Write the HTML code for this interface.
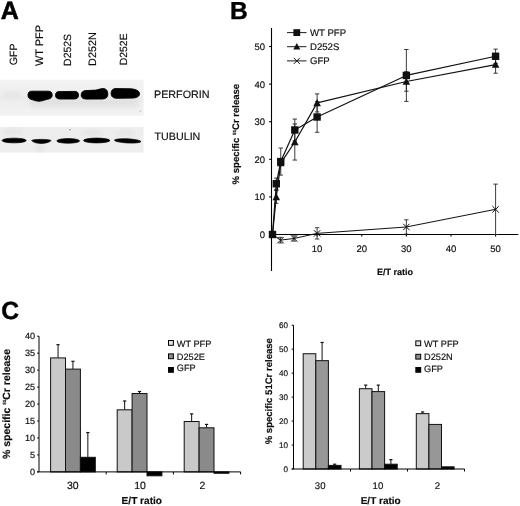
<!DOCTYPE html>
<html><head><meta charset="utf-8"><title>Figure</title>
<style>
html,body{margin:0;padding:0;background:#fff;}
body{width:520px;height:506px;overflow:hidden;}
svg{display:block;}
text{font-family:"Liberation Sans",sans-serif;fill:#0d0d0d;stroke:#0d0d0d;stroke-width:0.16px;text-rendering:geometricPrecision;}
svg{opacity:0.999;will-change:transform;}
.b{font-weight:bold;}
.pl{fill:#000;stroke:#000;}
</style></head><body>
<svg width="520" height="506" viewBox="0 0 520 506">
<defs>
<filter id="bl1" x="-20%" y="-50%" width="140%" height="200%"><feGaussianBlur stdDeviation="0.62"/></filter>
<filter id="bl2" x="-20%" y="-50%" width="140%" height="200%"><feGaussianBlur stdDeviation="0.5"/></filter>
<filter id="bl3" x="-20%" y="-50%" width="140%" height="200%"><feGaussianBlur stdDeviation="2.5"/></filter>
<linearGradient id="bg1" x1="0" y1="0" x2="0" y2="1"><stop offset="0" stop-color="#f4f4f4"/><stop offset="0.5" stop-color="#ededed"/><stop offset="1" stop-color="#f3f3f3"/></linearGradient>
</defs>
<rect x="0" y="0" width="520" height="506" fill="#ffffff"/>

<text class="b pl" x="0.7" y="19.2" font-size="25" style="stroke-width:0.55px">A</text>
<text class="b pl" x="230.0" y="19.0" font-size="24.6" style="stroke-width:0.4px">B</text>
<text class="b pl" x="1.3" y="319.0" font-size="24.6" style="stroke-width:0.45px">C</text>
<text font-size="10.5" transform="translate(17.3,65.2) rotate(-90)">GFP</text>
<text font-size="10.9" transform="translate(42.7,66.0) rotate(-90)">WT PFP</text>
<text font-size="10.45" transform="translate(71.4,65.9) rotate(-90)">D252S</text>
<text font-size="10.8" transform="translate(95.5,65.9) rotate(-90)">D252N</text>
<text font-size="10.4" transform="translate(127.1,65.2) rotate(-90)">D252E</text>
<text font-size="10.75" x="154.0" y="98.0">PERFORIN</text>
<text font-size="10.7" x="154.6" y="140.2">TUBULIN</text>
<g>
<rect x="0" y="79.6" width="143.6" height="36.2" fill="url(#bg1)"/>
<g filter="url(#bl3)" opacity="0.55">
<rect x="30" y="98" width="108" height="9" fill="#d6d6d6"/>
<rect x="2" y="92" width="20" height="6" fill="#dedede"/>
</g>
<circle cx="140.2" cy="111" r="0.6" fill="#8a8a8a"/>
<g filter="url(#bl1)" fill="#040404" stroke="#040404" stroke-width="0.9" stroke-linejoin="round">
<path d="M28,95 C28,92.2 29.5,91.2 32,91.2 L48,91.2 C51,91.2 52.2,92.5 52.2,95 C52.2,98 50,99 46,99.6 C43,100.6 41,101.2 39,101.2 C36,101.2 33,100 31,99.3 C29,98.7 28,97.5 28,95 Z"/>
<path d="M55.5,95.2 C55.5,92.5 57,91.6 59,91.6 L75,91.4 C77.5,91.4 78.5,93 78.5,95.2 C78.5,97.8 77,98.9 74,99 L60,99 C57,99 55.5,97.8 55.5,95.2 Z"/>
<path d="M81.2,95 C81.2,92 83,90.8 86,90.6 L96,90.1 C98.5,89.6 100.5,88.6 103,88.6 C106.5,88.6 107.8,91 107.8,94 C107.8,97.5 106,98.9 102,99 L87,99.1 C83,99.1 81.2,97.8 81.2,95 Z"/>
<path d="M111.1,93.5 C111.1,90 113,88.6 116,88.6 L131,88.8 C136,89.2 139.5,91 139.5,93.8 C139.5,96.5 137,97.9 132,98.1 L117,98.3 C113,98.3 111.1,96.5 111.1,93.5 Z"/>
</g></g>
<g>
<rect x="0" y="127.0" width="143.6" height="25.6" fill="#eeeeee"/>
<g filter="url(#bl3)" opacity="0.6">
<rect x="4" y="130.5" width="18" height="3" fill="#d0d0d0"/>
<rect x="82" y="131" width="20" height="3" fill="#d0d0d0"/>
<rect x="116" y="131.5" width="18" height="3" fill="#d4d4d4"/>
<rect x="36" y="145" width="8" height="6" fill="#d8d8d8"/>
</g>
<circle cx="70" cy="129.8" r="0.7" fill="#777"/>
<g filter="url(#bl2)" fill="#040404" stroke="#040404" stroke-width="0.7" stroke-linejoin="round">
<ellipse cx="14.1" cy="140.5" rx="12.1" ry="2.35"/>
<path d="M31.6,140.6 C33,139.6 36,139.4 41,139.4 C46,139.4 49.5,139.6 51.2,140.6 C49,142.6 45,143.4 41.3,143.4 C37.5,143.4 33.5,142.6 31.6,140.6 Z"/>
<ellipse cx="68.2" cy="140.9" rx="11.4" ry="2.3"/>
<ellipse cx="96.7" cy="140.5" rx="13.2" ry="2.4"/>
<ellipse cx="127.7" cy="140.9" rx="13.2" ry="2.05" transform="rotate(3 127.7 140.9)"/>
</g></g>
<g stroke="#000" stroke-width="1.1" fill="none">
<line x1="271.5" y1="28" x2="271.5" y2="271"/>
<line x1="271.5" y1="234.5" x2="518.3" y2="234.5"/>
<line x1="269.1" y1="234.50" x2="271.5" y2="234.50"/>
<line x1="269.1" y1="196.90" x2="271.5" y2="196.90"/>
<line x1="269.1" y1="159.30" x2="271.5" y2="159.30"/>
<line x1="269.1" y1="121.70" x2="271.5" y2="121.70"/>
<line x1="269.1" y1="84.10" x2="271.5" y2="84.10"/>
<line x1="269.1" y1="46.50" x2="271.5" y2="46.50"/>
<line x1="317.12" y1="234.5" x2="317.12" y2="236.5"/>
<line x1="361.74" y1="234.5" x2="361.74" y2="236.5"/>
<line x1="406.36" y1="234.5" x2="406.36" y2="236.5"/>
<line x1="450.98" y1="234.5" x2="450.98" y2="236.5"/>
<line x1="495.60" y1="234.5" x2="495.60" y2="236.5"/>
</g>
<text font-size="9.5" text-anchor="end" x="265" y="237.90">0</text>
<text font-size="9.5" text-anchor="end" x="265" y="200.30">10</text>
<text font-size="9.5" text-anchor="end" x="265" y="162.70">20</text>
<text font-size="9.5" text-anchor="end" x="265" y="125.10">30</text>
<text font-size="9.5" text-anchor="end" x="265" y="87.50">40</text>
<text font-size="9.5" text-anchor="end" x="265" y="49.90">50</text>
<text font-size="9.5" text-anchor="middle" x="317.12" y="251.7">10</text>
<text font-size="9.5" text-anchor="middle" x="361.74" y="251.7">20</text>
<text font-size="9.5" text-anchor="middle" x="406.36" y="251.7">30</text>
<text font-size="9.5" text-anchor="middle" x="450.98" y="251.7">40</text>
<text font-size="9.5" text-anchor="middle" x="495.60" y="251.7">50</text>
<text class="b" font-size="9" text-anchor="middle" x="395" y="275">E/T ratio</text>
<text class="b" font-size="9.55" text-anchor="middle" transform="translate(239.3,134.1) rotate(-90)">% specific <tspan font-size="4.5" dy="-3.5">51</tspan><tspan dy="3.5">Cr release</tspan></text>
<g stroke="#262626" stroke-width="0.9" fill="none">
<line x1="280.53" y1="237.32" x2="280.53" y2="242.96"/>
<line x1="278.33" y1="237.32" x2="282.73" y2="237.32"/>
<line x1="278.33" y1="242.96" x2="282.73" y2="242.96"/>
<line x1="294.14" y1="235.82" x2="294.14" y2="241.08"/>
<line x1="291.94" y1="235.82" x2="296.34" y2="235.82"/>
<line x1="291.94" y1="241.08" x2="296.34" y2="241.08"/>
<line x1="317.12" y1="227.73" x2="317.12" y2="239.01"/>
<line x1="314.92" y1="227.73" x2="319.32" y2="227.73"/>
<line x1="314.92" y1="239.01" x2="319.32" y2="239.01"/>
<line x1="406.36" y1="219.84" x2="406.36" y2="234.12"/>
<line x1="404.16" y1="219.84" x2="408.56" y2="219.84"/>
<line x1="404.16" y1="234.12" x2="408.56" y2="234.12"/>
<line x1="495.60" y1="184.12" x2="495.60" y2="234.50"/>
<line x1="493.40" y1="184.12" x2="497.80" y2="184.12"/>
<line x1="493.40" y1="234.50" x2="497.80" y2="234.50"/>
<line x1="276.29" y1="190.51" x2="276.29" y2="203.29"/>
<line x1="274.09" y1="190.51" x2="278.49" y2="190.51"/>
<line x1="274.09" y1="203.29" x2="278.49" y2="203.29"/>
<line x1="294.81" y1="123.96" x2="294.81" y2="160.05"/>
<line x1="292.61" y1="123.96" x2="297.01" y2="123.96"/>
<line x1="292.61" y1="160.05" x2="297.01" y2="160.05"/>
<line x1="317.12" y1="93.88" x2="317.12" y2="111.92"/>
<line x1="314.92" y1="93.88" x2="319.32" y2="93.88"/>
<line x1="314.92" y1="111.92" x2="319.32" y2="111.92"/>
<line x1="406.36" y1="71.69" x2="406.36" y2="91.24"/>
<line x1="404.16" y1="71.69" x2="408.56" y2="71.69"/>
<line x1="404.16" y1="91.24" x2="408.56" y2="91.24"/>
<line x1="495.60" y1="55.90" x2="495.60" y2="73.20"/>
<line x1="493.40" y1="55.90" x2="497.80" y2="55.90"/>
<line x1="493.40" y1="73.20" x2="497.80" y2="73.20"/>
<line x1="276.29" y1="178.10" x2="276.29" y2="189.38"/>
<line x1="274.09" y1="178.10" x2="278.49" y2="178.10"/>
<line x1="274.09" y1="189.38" x2="278.49" y2="189.38"/>
<line x1="280.75" y1="148.02" x2="280.75" y2="175.09"/>
<line x1="278.55" y1="148.02" x2="282.95" y2="148.02"/>
<line x1="278.55" y1="175.09" x2="282.95" y2="175.09"/>
<line x1="294.81" y1="119.07" x2="294.81" y2="140.88"/>
<line x1="292.61" y1="119.07" x2="297.01" y2="119.07"/>
<line x1="292.61" y1="140.88" x2="297.01" y2="140.88"/>
<line x1="317.12" y1="101.77" x2="317.12" y2="132.23"/>
<line x1="314.92" y1="101.77" x2="319.32" y2="101.77"/>
<line x1="314.92" y1="132.23" x2="319.32" y2="132.23"/>
<line x1="406.36" y1="49.51" x2="406.36" y2="101.40"/>
<line x1="404.16" y1="49.51" x2="408.56" y2="49.51"/>
<line x1="404.16" y1="101.40" x2="408.56" y2="101.40"/>
<line x1="495.60" y1="49.13" x2="495.60" y2="63.42"/>
<line x1="493.40" y1="49.13" x2="497.80" y2="49.13"/>
<line x1="493.40" y1="63.42" x2="497.80" y2="63.42"/>
</g>
<polyline points="272.50,234.50 280.53,240.14 294.14,238.45 317.12,233.37 406.36,226.98 495.60,209.31" fill="none" stroke="#111111" stroke-width="1.0" stroke-linejoin="round"/>
<polyline points="272.50,234.50 276.29,196.90 280.75,163.06 294.81,142.00 317.12,102.90 406.36,81.47 495.60,64.55" fill="none" stroke="#111111" stroke-width="1.2" stroke-linejoin="round"/>
<polyline points="272.50,234.50 276.29,183.74 280.75,161.56 294.81,129.97 317.12,117.00 406.36,75.45 495.60,56.28" fill="none" stroke="#111111" stroke-width="1.2" stroke-linejoin="round"/>
<path d="M277.33,236.94 L283.73,243.34 M277.33,243.34 L283.73,236.94" stroke="#111111" stroke-width="1" fill="none"/>
<path d="M290.94,235.25 L297.34,241.65 M290.94,241.65 L297.34,235.25" stroke="#111111" stroke-width="1" fill="none"/>
<path d="M313.92,230.17 L320.32,236.57 M313.92,236.57 L320.32,230.17" stroke="#111111" stroke-width="1" fill="none"/>
<path d="M403.16,223.78 L409.56,230.18 M403.16,230.18 L409.56,223.78" stroke="#111111" stroke-width="1" fill="none"/>
<path d="M492.40,206.11 L498.80,212.51 M492.40,212.51 L498.80,206.11" stroke="#111111" stroke-width="1" fill="none"/>
<polygon points="276.29,193.10 280.09,200.13 272.49,200.13" fill="#111111"/>
<polygon points="280.75,159.26 284.55,166.29 276.95,166.29" fill="#111111"/>
<polygon points="294.81,138.20 298.61,145.23 291.01,145.23" fill="#111111"/>
<polygon points="317.12,99.10 320.92,106.13 313.32,106.13" fill="#111111"/>
<polygon points="406.36,77.67 410.16,84.70 402.56,84.70" fill="#111111"/>
<polygon points="495.60,60.75 499.40,67.78 491.80,67.78" fill="#111111"/>
<rect x="268.80" y="230.80" width="7.4" height="7.4" fill="#111111"/>
<rect x="272.59" y="180.04" width="7.4" height="7.4" fill="#111111"/>
<rect x="277.05" y="157.86" width="7.4" height="7.4" fill="#111111"/>
<rect x="291.11" y="126.27" width="7.4" height="7.4" fill="#111111"/>
<rect x="313.42" y="113.30" width="7.4" height="7.4" fill="#111111"/>
<rect x="402.66" y="71.75" width="7.4" height="7.4" fill="#111111"/>
<rect x="491.90" y="52.58" width="7.4" height="7.4" fill="#111111"/>
<line x1="287" y1="32.6" x2="306.5" y2="32.6" stroke="#111111" stroke-width="0.95"/>
<rect x="293.40" y="29.20" width="6.8" height="6.8" fill="#111111"/>
<text font-size="9.6" x="310" y="36.0">WT PFP</text>
<line x1="287" y1="46.7" x2="306.5" y2="46.7" stroke="#111111" stroke-width="0.95"/>
<polygon points="296.80,42.90 300.30,49.38 293.30,49.38" fill="#111111"/>
<text font-size="9.6" x="310" y="50.1">D252S</text>
<line x1="287" y1="60.9" x2="306.5" y2="60.9" stroke="#111111" stroke-width="0.95"/>
<path d="M293.80,57.90 L299.80,63.90 M293.80,63.90 L299.80,57.90" stroke="#111111" stroke-width="1" fill="none"/>
<text font-size="9.6" x="310" y="64.3">GFP</text>
<line x1="58.05" y1="357.91" x2="58.05" y2="344.68" stroke="#111111" stroke-width="1"/>
<line x1="56.45" y1="344.68" x2="59.65" y2="344.68" stroke="#111111" stroke-width="1.2"/>
<rect x="50.60" y="357.91" width="14.90" height="113.99" fill="#c9c9c9" stroke="#111111" stroke-width="1"/>
<line x1="72.95" y1="369.11" x2="72.95" y2="361.30" stroke="#111111" stroke-width="1"/>
<line x1="71.35" y1="361.30" x2="74.55" y2="361.30" stroke="#111111" stroke-width="1.2"/>
<rect x="65.50" y="369.11" width="14.90" height="102.79" fill="#8a8a8a" stroke="#111111" stroke-width="1"/>
<line x1="87.85" y1="457.31" x2="87.85" y2="432.55" stroke="#111111" stroke-width="1"/>
<line x1="86.25" y1="432.55" x2="89.45" y2="432.55" stroke="#111111" stroke-width="1.2"/>
<rect x="80.40" y="457.31" width="14.90" height="14.59" fill="#000000" stroke="#111111" stroke-width="1"/>
<line x1="124.65" y1="409.82" x2="124.65" y2="401.00" stroke="#111111" stroke-width="1"/>
<line x1="123.05" y1="401.00" x2="126.25" y2="401.00" stroke="#111111" stroke-width="1.2"/>
<rect x="117.20" y="409.82" width="14.90" height="62.08" fill="#c9c9c9" stroke="#111111" stroke-width="1"/>
<line x1="139.55" y1="393.53" x2="139.55" y2="391.50" stroke="#111111" stroke-width="1"/>
<line x1="137.95" y1="391.50" x2="141.15" y2="391.50" stroke="#111111" stroke-width="1.2"/>
<rect x="132.10" y="393.53" width="14.90" height="78.37" fill="#8a8a8a" stroke="#111111" stroke-width="1"/>
<rect x="147.00" y="471.90" width="14.90" height="3.90" fill="#000000" stroke="#111111" stroke-width="1"/>
<line x1="191.65" y1="421.52" x2="191.65" y2="413.89" stroke="#111111" stroke-width="1"/>
<line x1="190.05" y1="413.89" x2="193.25" y2="413.89" stroke="#111111" stroke-width="1.2"/>
<rect x="184.20" y="421.52" width="14.90" height="50.38" fill="#c9c9c9" stroke="#111111" stroke-width="1"/>
<line x1="206.55" y1="427.80" x2="206.55" y2="424.41" stroke="#111111" stroke-width="1"/>
<line x1="204.95" y1="424.41" x2="208.15" y2="424.41" stroke="#111111" stroke-width="1.2"/>
<rect x="199.10" y="427.80" width="14.90" height="44.10" fill="#8a8a8a" stroke="#111111" stroke-width="1"/>
<rect x="214.00" y="471.90" width="14.90" height="1.36" fill="#000000" stroke="#111111" stroke-width="1"/>
<g stroke="#000" stroke-width="1" fill="none">
<line x1="39.0" y1="336.2" x2="39.0" y2="471.9"/>
<line x1="37.2" y1="471.9" x2="240.60000000000002" y2="471.9"/>
<line x1="37.2" y1="471.90" x2="39.0" y2="471.90"/>
<line x1="37.2" y1="454.94" x2="39.0" y2="454.94"/>
<line x1="37.2" y1="437.97" x2="39.0" y2="437.97"/>
<line x1="37.2" y1="421.01" x2="39.0" y2="421.01"/>
<line x1="37.2" y1="404.05" x2="39.0" y2="404.05"/>
<line x1="37.2" y1="387.09" x2="39.0" y2="387.09"/>
<line x1="37.2" y1="370.12" x2="39.0" y2="370.12"/>
<line x1="37.2" y1="353.16" x2="39.0" y2="353.16"/>
<line x1="37.2" y1="336.20" x2="39.0" y2="336.20"/>
<line x1="106.20" y1="471.9" x2="106.20" y2="474.4"/>
<line x1="173.40" y1="471.9" x2="173.40" y2="474.4"/>
<line x1="240.60" y1="471.9" x2="240.60" y2="474.4"/>
</g>
<text font-size="9.1" text-anchor="end" x="35.1" y="474.80">0</text>
<text font-size="9.1" text-anchor="end" x="35.1" y="457.84">5</text>
<text font-size="9.1" text-anchor="end" x="35.1" y="440.87">10</text>
<text font-size="9.1" text-anchor="end" x="35.1" y="423.91">15</text>
<text font-size="9.1" text-anchor="end" x="35.1" y="406.95">20</text>
<text font-size="9.1" text-anchor="end" x="35.1" y="389.99">25</text>
<text font-size="9.1" text-anchor="end" x="35.1" y="373.02">30</text>
<text font-size="9.1" text-anchor="end" x="35.1" y="356.06">35</text>
<text font-size="9.1" text-anchor="end" x="35.1" y="339.10">40</text>
<text font-size="10.5" text-anchor="middle" x="72.8" y="488.8">30</text>
<text font-size="10.5" text-anchor="middle" x="140.0" y="488.8">10</text>
<text font-size="10.5" text-anchor="middle" x="202.4" y="488.8">2</text>
<text class="b" font-size="10.1" text-anchor="middle" x="141.8" y="504.3">E/T ratio</text>
<text class="b" font-size="10.5" text-anchor="middle" transform="translate(9.6,404.0) rotate(-90)">% specific <tspan font-size="4.5" dy="-3.5">51</tspan><tspan dy="3.5">Cr release</tspan></text>
<rect x="168.5" y="340.5" width="4.9" height="4.8" fill="#e2e2e2" stroke="#000" stroke-width="1"/>
<text font-size="9.2" x="176.8" y="346.6">WT PFP</text>
<rect x="168.5" y="353.90000000000003" width="4.9" height="4.8" fill="#8e8e8e" stroke="#000" stroke-width="1"/>
<text font-size="9.2" x="176.8" y="359.5">D252E</text>
<rect x="168.0" y="367.0" width="5.9" height="5.8" fill="#000"/>
<text font-size="9.2" x="176.8" y="371.3">GFP</text>
<rect x="303.20" y="353.72" width="12.60" height="115.28" fill="#cbcbcb" stroke="#111111" stroke-width="1"/>
<line x1="322.10" y1="360.67" x2="322.10" y2="342.46" stroke="#111111" stroke-width="1"/>
<line x1="320.50" y1="342.46" x2="323.70" y2="342.46" stroke="#111111" stroke-width="1.2"/>
<rect x="315.80" y="360.67" width="12.60" height="108.33" fill="#979797" stroke="#111111" stroke-width="1"/>
<line x1="334.70" y1="465.40" x2="334.70" y2="464.21" stroke="#111111" stroke-width="1"/>
<line x1="333.10" y1="464.21" x2="336.30" y2="464.21" stroke="#111111" stroke-width="1.2"/>
<rect x="328.40" y="465.40" width="12.60" height="3.60" fill="#000000" stroke="#111111" stroke-width="1"/>
<line x1="365.70" y1="388.71" x2="365.70" y2="385.12" stroke="#111111" stroke-width="1"/>
<line x1="364.10" y1="385.12" x2="367.30" y2="385.12" stroke="#111111" stroke-width="1.2"/>
<rect x="359.40" y="388.71" width="12.60" height="80.29" fill="#cbcbcb" stroke="#111111" stroke-width="1"/>
<line x1="378.30" y1="391.59" x2="378.30" y2="385.12" stroke="#111111" stroke-width="1"/>
<line x1="376.70" y1="385.12" x2="379.90" y2="385.12" stroke="#111111" stroke-width="1.2"/>
<rect x="372.00" y="391.59" width="12.60" height="77.41" fill="#979797" stroke="#111111" stroke-width="1"/>
<line x1="390.90" y1="464.21" x2="390.90" y2="459.65" stroke="#111111" stroke-width="1"/>
<line x1="389.30" y1="459.65" x2="392.50" y2="459.65" stroke="#111111" stroke-width="1.2"/>
<rect x="384.60" y="464.21" width="12.60" height="4.79" fill="#000000" stroke="#111111" stroke-width="1"/>
<line x1="422.60" y1="413.64" x2="422.60" y2="411.96" stroke="#111111" stroke-width="1"/>
<line x1="421.00" y1="411.96" x2="424.20" y2="411.96" stroke="#111111" stroke-width="1.2"/>
<rect x="416.30" y="413.64" width="12.60" height="55.36" fill="#cbcbcb" stroke="#111111" stroke-width="1"/>
<rect x="428.90" y="424.42" width="12.60" height="44.58" fill="#979797" stroke="#111111" stroke-width="1"/>
<rect x="441.50" y="466.84" width="12.60" height="2.16" fill="#000000" stroke="#111111" stroke-width="1"/>
<g stroke="#000" stroke-width="1" fill="none">
<line x1="293.5" y1="325.2" x2="293.5" y2="469.0"/>
<line x1="291.7" y1="469.0" x2="464.5" y2="469.0"/>
<line x1="291.7" y1="469.00" x2="293.5" y2="469.00"/>
<line x1="291.7" y1="445.03" x2="293.5" y2="445.03"/>
<line x1="291.7" y1="421.07" x2="293.5" y2="421.07"/>
<line x1="291.7" y1="397.10" x2="293.5" y2="397.10"/>
<line x1="291.7" y1="373.13" x2="293.5" y2="373.13"/>
<line x1="291.7" y1="349.17" x2="293.5" y2="349.17"/>
<line x1="291.7" y1="325.20" x2="293.5" y2="325.20"/>
<line x1="350.50" y1="469.0" x2="350.50" y2="471.5"/>
<line x1="407.50" y1="469.0" x2="407.50" y2="471.5"/>
<line x1="464.50" y1="469.0" x2="464.50" y2="471.5"/>
</g>
<text font-size="8.1" text-anchor="end" x="288.0" y="471.90">0</text>
<text font-size="8.1" text-anchor="end" x="288.0" y="447.93">10</text>
<text font-size="8.1" text-anchor="end" x="288.0" y="423.97">20</text>
<text font-size="8.1" text-anchor="end" x="288.0" y="400.00">30</text>
<text font-size="8.1" text-anchor="end" x="288.0" y="376.03">40</text>
<text font-size="8.1" text-anchor="end" x="288.0" y="352.07">50</text>
<text font-size="8.1" text-anchor="end" x="288.0" y="328.10">60</text>
<text font-size="9.6" text-anchor="middle" x="320.2" y="489.0">30</text>
<text font-size="9.6" text-anchor="middle" x="377.9" y="489.0">10</text>
<text font-size="9.6" text-anchor="middle" x="437.4" y="489.0">2</text>
<text class="b" font-size="10" text-anchor="middle" x="380.7" y="503.8">E/T ratio</text>
<text class="b" font-size="9.55" text-anchor="middle" transform="translate(271.9,391.2) rotate(-90)">% specific 51Cr release</text>
<rect x="415.8" y="340.90000000000003" width="4.9" height="4.8" fill="#e2e2e2" stroke="#000" stroke-width="1"/>
<text font-size="9.2" x="424.1" y="346.9">WT PFP</text>
<rect x="415.8" y="354.3" width="4.9" height="4.8" fill="#8e8e8e" stroke="#000" stroke-width="1"/>
<text font-size="9.2" x="424.1" y="359.5">D252N</text>
<rect x="415.3" y="367.0" width="5.9" height="5.8" fill="#000"/>
<text font-size="9.2" x="424.1" y="371.5">GFP</text>
</svg></body></html>
